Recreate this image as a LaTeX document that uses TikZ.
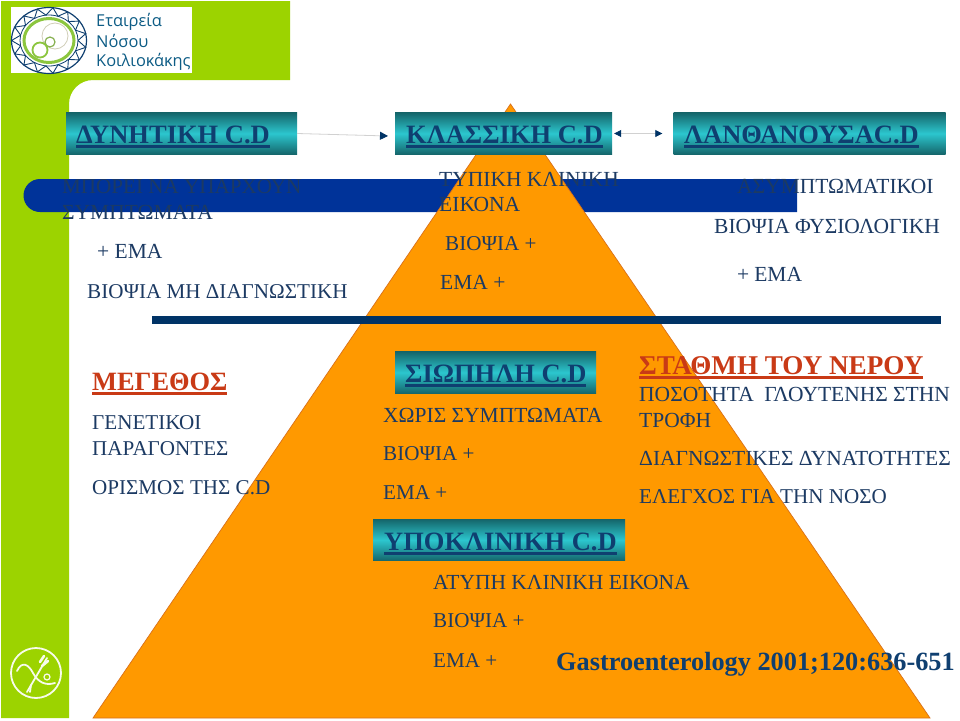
\documentclass[tikz,border=0pt]{standalone}
\usepackage{fontspec}
\setmainfont{Liberation Serif}
\newfontfamily\logofont{Open Sans}
\usetikzlibrary{arrows.meta}
\definecolor{lime}{HTML}{9CD300}
\definecolor{navyt}{HTML}{1C3A63}
\definecolor{heading}{HTML}{0F3F70}
\definecolor{redt}{HTML}{C93A16}
\definecolor{barblue}{HTML}{003399}
\definecolor{rulenavy}{HTML}{003366}
\definecolor{pyr}{HTML}{FF9900}
\definecolor{pyredge}{HTML}{D9701A}
\definecolor{tealdark}{HTML}{15666B}
\definecolor{tealmid}{HTML}{2CC6CE}
\definecolor{logogreen}{HTML}{8CC63F}
\newcommand{\ulbar}[1]{\setbox0=\hbox{#1}\rlap{\rule[-4.5pt]{\wd0}{2.4pt}}\box0}
\tikzset{
  x=1pt,y=-1pt,
  txt/.style={anchor=base west,inner sep=0pt,text=navyt,font=\fontsize{21.5}{21.5}\selectfont},
  txtb/.style={txt,font=\fontsize{21.1}{21.1}\selectfont},
  boxhead/.style={anchor=base west,inner sep=0pt,text=heading,font=\fontsize{26.5}{26.5}\selectfont\bfseries},
  redhead/.style={anchor=base west,inner sep=0pt,text=redt,font=\fontsize{26.4}{26.4}\selectfont\bfseries},
  tealbox/.style={rectangle,inner sep=0pt,top color=tealdark,bottom color=tealdark,middle color=tealmid,minimum height=41.5pt},
  conn/.style={draw=black!18,line width=0.8pt},
  logotxt/.style={anchor=base west,inner sep=0pt,text=heading!85!cyan,font=\logofont\fontsize{16.4}{16.4}\selectfont},
  iconline/.style={draw=white!92!lime,line width=1.8pt,line cap=round}
}
\begin{document}
\begin{tikzpicture}
\useasboundingbox (0,0) rectangle (960,720);
\fill[white] (0,0) rectangle (960,720);
% green frame
\fill[lime] (1,1) -- (290,1) -- (290,80) -- (93,80) arc[start angle=-90,end angle=-180,radius=24] -- (69,718) -- (1,718) -- cycle;
% blue bar
\fill[barblue] (797,179) -- (40,179) arc[start angle=-90,end angle=-270,radius=16.5] -- (797,212) -- cycle;
% pyramid
\filldraw[fill=pyr,draw=pyredge,line width=0.7pt] (510.5,104) -- (930,718) -- (93,718) -- cycle;
% rule
\fill[rulenavy] (152,316) rectangle (941,324);
% logo
\fill[white] (11,7) rectangle (192,73);
\draw[heading,line width=1.2pt] (49,40.5) ellipse[x radius=37.5,y radius=33];
\draw[heading,line width=0.8pt] (49,40.5) ellipse[x radius=29,y radius=25.5];
\foreach \a in {0,24,...,336}{
  \draw[heading,line width=0.9pt] ({49+29*cos(\a)},{40.5+25.5*sin(\a)}) -- ({49+37.5*cos(\a+12)},{40.5+33*sin(\a+12)}) -- ({49+29*cos(\a+24)},{40.5+25.5*sin(\a+24)});
}
\draw[logogreen,line width=3pt] (49,40.5) ellipse[x radius=25,y radius=22];
\draw[black!25!yellow!30!gray!50,line width=0.8pt] (55,36) circle[radius=13];
\draw[logogreen!70!gray,line width=1.2pt] (50,42) circle[radius=5];
\draw[logogreen,line width=1.8pt] (40,50) circle[radius=7.5];
\node[logotxt] (logoa) at (96,27) {Εταιρεία};
\node[logotxt] (logob) at (96,47) {Νόσου};
\node[logotxt] (logoc) at (96,66) {Κοιλιοκάκης};
% bottom icon
\draw[iconline] (36,673) circle[radius=25];
\draw[iconline] (17,671) .. controls (22,660) and (29,665) .. (33,673) .. controls (38,682) and (45,686) .. (55,683);
\draw[iconline] (27,692) -- (47,658);
\draw[iconline] (31,685) -- (30,692);
\draw[iconline,line width=2.6pt] (42,666) -- (48,661);
\draw[iconline,line width=2.6pt] (40,662) -- (44,656);
\draw[iconline,line width=1.2pt] (47,677) circle[radius=3];
% teal boxes
\node[tealbox,minimum width=231pt] (b1) at (181.5,133.5) {};
\node[tealbox,minimum width=217pt] (b2) at (503.5,133.5) {};
\node[tealbox,minimum width=272pt] (b3) at (809.5,133.5) {};
\node[tealbox,minimum width=201pt] (b4) at (495.5,372.5) {};
\node[tealbox,minimum width=252pt] (b5) at (499,540) {};
\node[boxhead] (h1) at (76,143) {\ulbar{ΔΥΝΗΤΙΚΗ C.D}};
\node[boxhead] (h2) at (406,143) {\ulbar{ΚΛΑΣΣΙΚΗ C.D}};
\node[boxhead] (h3) at (684,143) {\ulbar{ΛΑΝΘΑΝΟΥΣΑC.D}};
\node[boxhead] (h4) at (405,382) {\ulbar{ΣΙΩΠΗΛΗ C.D}};
\node[boxhead] (h5) at (384,550) {\ulbar{ΥΠΟΚΛΙΝΙΚΗ C.D}};
% connectors
\coordinate (a1end) at (388,136);
\draw[conn,-{Triangle[length=8pt,width=8pt,color=rulenavy]}] (b1.east) -- (a1end);
\draw[conn,{Triangle[length=7pt,width=7pt,color=rulenavy]}-{Triangle[length=7pt,width=7pt,color=rulenavy]},shorten <=2pt,shorten >=11pt] (b2.east) -- (b3.west);
% left column
\node[txtb] (t1) at (62,193) {ΜΠΟΡΕΙ ΝΑ ΥΠΑΡΧΟΥΝ};
\node[txt] (t2) at (62,219) {ΣΥΜΠΤΩΜΑΤΑ};
\node[txt] (t3) at (97,258) {+ ΕΜΑ};
\node[txtb] (t4) at (87,298) {ΒΙΟΨΙΑ ΜΗ ΔΙΑΓΝΩΣΤΙΚΗ};
% middle column
\node[txt] (t5) at (439,186) {ΤΥΠΙΚΗ ΚΛΙΝΙΚΗ};
\node[txt] (t6) at (439,211) {ΕΙΚΟΝΑ};
\node[txtb] (t7) at (445,250) {ΒΙΟΨΙΑ +};
\node[txt] (t8) at (440,289) {ΕΜΑ +};
% right column
\node[txt] (t9) at (737,193) {ΑΣΥΜΠΤΩΜΑΤΙΚΟΙ};
\node[txt] (t10) at (714,233) {ΒΙΟΨΙΑ ΦΥΣΙΟΛΟΓΙΚΗ};
\node[txt] (t11) at (737,281) {+\hspace{5pt}ΕΜΑ};
% size block
\node[redhead] (r1) at (92,390) {\ulbar{ΜΕΓΕΘΟΣ}};
\node[txtb] (t12) at (92,429) {ΓΕΝΕΤΙΚΟΙ};
\node[txtb] (t13) at (92,455) {ΠΑΡΑΓΟΝΤΕΣ};
\node[txtb] (t14) at (92,494) {ΟΡΙΣΜΟΣ ΤΗΣ C.D};
% silent
\node[txt] (t15) at (383,422) {ΧΩΡΙΣ ΣΥΜΠΤΩΜΑΤΑ};
\node[txtb] (t16) at (383,460) {ΒΙΟΨΙΑ +};
\node[txtb] (t17) at (383,499) {ΕΜΑ +};
% water
\node[redhead,font=\fontsize{27.1}{27.1}\selectfont\bfseries] (r2) at (639,374) {\ulbar{ΣΤΑΘΜΗ ΤΟΥ ΝΕΡΟΥ}};
\node[txt] (t18) at (639,401) {ΠΟΣΟΤΗΤΑ\hspace{5pt} ΓΛΟΥΤΕΝΗΣ ΣΤΗΝ};
\node[txt] (t19) at (639,427) {ΤΡΟΦΗ};
\node[txt] (t20) at (639,465) {ΔΙΑΓΝΩΣΤΙΚΕΣ ΔΥΝΑΤΟΤΗΤΕΣ};
\node[txtb] (t21) at (639,503) {ΕΛΕΓΧΟΣ ΓΙΑ ΤΗΝ ΝΟΣΟ};
% subclinical
\node[txt] (t22) at (433,589) {ΑΤΥΠΗ ΚΛΙΝΙΚΗ ΕΙΚΟΝΑ};
\node[txtb] (t23) at (433,627) {ΒΙΟΨΙΑ +};
\node[txtb] (t24) at (433,667) {ΕΜΑ +};
\node[boxhead,font=\fontsize{26.3}{26.3}\selectfont\bfseries] (cite) at (556,670) {Gastroenterology 2001;120:636-651};
\end{tikzpicture}
\end{document}
